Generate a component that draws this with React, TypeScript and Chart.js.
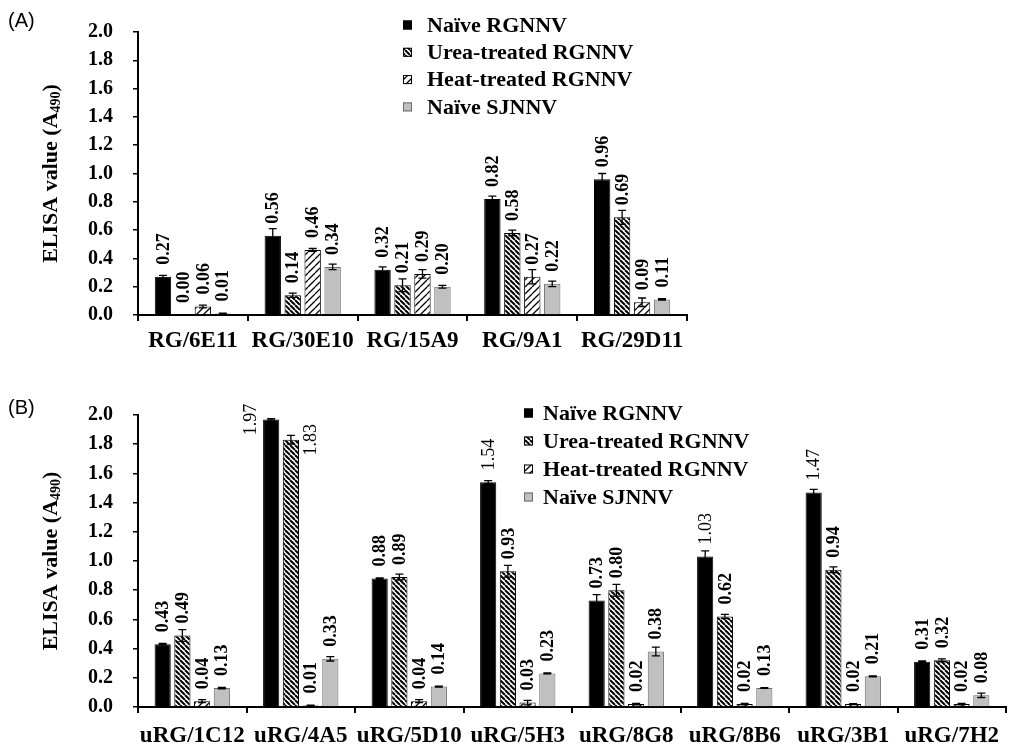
import React, { useEffect, useRef } from 'react';
import { Chart, registerables } from 'chart.js';

Chart.register(...registerables);

// ---------- data ----------
const SERIES_NAMES = ['Naïve RGNNV', 'Urea-treated RGNNV', 'Heat-treated RGNNV', 'Naïve SJNNV'];

const A_CATEGORIES = ['RG/6E11', 'RG/30E10', 'RG/15A9', 'RG/9A1', 'RG/29D11'];
const A_NAIVE_RG = [0.27, 0.56, 0.32, 0.82, 0.96];
const A_UREA_RG = [0.0, 0.14, 0.21, 0.58, 0.69];
const A_HEAT_RG = [0.06, 0.46, 0.29, 0.27, 0.09];
const A_NAIVE_SJ = [0.01, 0.34, 0.2, 0.22, 0.11];
const A_NAIVE_RG_ERR = [0.01, 0.05, 0.02, 0.02, 0.04];
const A_UREA_RG_ERR = [0.0, 0.015, 0.045, 0.02, 0.05];
const A_HEAT_RG_ERR = [0.01, 0.01, 0.03, 0.05, 0.03];
const A_NAIVE_SJ_ERR = [0.003, 0.02, 0.01, 0.02, 0.005];

const B_CATEGORIES = ['uRG/1C12', 'uRG/4A5', 'uRG/5D10', 'uRG/5H3', 'uRG/8G8', 'uRG/8B6', 'uRG/3B1', 'uRG/7H2'];
const B_NAIVE_RG = [0.43, 1.97, 0.88, 1.54, 0.73, 1.03, 1.47, 0.31];
const B_UREA_RG = [0.49, 1.83, 0.89, 0.93, 0.8, 0.62, 0.94, 0.32];
const B_HEAT_RG = [0.04, 0.01, 0.04, 0.03, 0.02, 0.02, 0.02, 0.02];
const B_NAIVE_SJ = [0.13, 0.33, 0.14, 0.23, 0.38, 0.13, 0.21, 0.08];
const B_NAIVE_RG_ERR = [0.005, 0.005, 0.005, 0.01, 0.04, 0.04, 0.02, 0.005];
const B_UREA_RG_ERR = [0.04, 0.03, 0.02, 0.04, 0.04, 0.015, 0.02, 0.01];
const B_HEAT_RG_ERR = [0.01, 0.003, 0.01, 0.015, 0.005, 0.005, 0.003, 0.005];
const B_NAIVE_SJ_ERR = [0.005, 0.015, 0.003, 0.003, 0.03, 0.003, 0.003, 0.015];

const Y_MIN = 0;
const Y_MAX = 2.0;
const Y_STEP = 0.2;
const Y_TITLE_MAIN = 'ELISA value (A';
const Y_TITLE_SUB = '490';
const Y_TITLE_END = ')';

// ---------- styling ----------
const SERIF = '"Liberation Serif", "Times New Roman", serif';
const SANS = '"Liberation Sans", Arial, sans-serif';

function makePattern(kind: 'urea' | 'heat') {
  const s = kind === 'urea' ? 5 : 7;
  const c = document.createElement('canvas');
  c.width = s;
  c.height = s;
  const g = c.getContext('2d')!;
  g.fillStyle = '#ffffff';
  g.fillRect(0, 0, s, s);
  g.strokeStyle = '#000000';
  g.lineWidth = kind === 'urea' ? 2 : 1.3;
  g.beginPath();
  for (const o of [-s, 0, s]) {
    if (kind === 'urea') {
      g.moveTo(o, 0);
      g.lineTo(o + s, s);
    } else {
      g.moveTo(o, s);
      g.lineTo(o + s, 0);
    }
  }
  g.stroke();
  return g.createPattern(c, 'repeat')!;
}

const decorPlugin = {
  id: 'decor',
  afterDatasetsDraw(chart: any) {
    const o = chart.options.plugins.decor;
    const ctx = chart.ctx as CanvasRenderingContext2D;
    const y = chart.scales.y;
    const area = chart.chartArea;
    // error bars
    ctx.save();
    ctx.strokeStyle = '#000';
    ctx.lineWidth = 1.3;
    chart.data.datasets.forEach((ds: any, di: number) => {
      const meta = chart.getDatasetMeta(di);
      meta.data.forEach((bar: any, i: number) => {
        const v = ds.data[i];
        const e = o.errors[di][i];
        if (!e) return;
        const yt = y.getPixelForValue(v + e);
        const yb = y.getPixelForValue(Math.max(0, v - e));
        const cap = 4;
        ctx.beginPath();
        ctx.moveTo(bar.x, yt);
        ctx.lineTo(bar.x, yb);
        ctx.moveTo(bar.x - cap, yt);
        ctx.lineTo(bar.x + cap, yt);
        ctx.moveTo(bar.x - cap, yb);
        ctx.lineTo(bar.x + cap, yb);
        ctx.stroke();
      });
    });
    ctx.restore();

    // value labels (rotated)
    ctx.save();
    ctx.fillStyle = '#000';
    chart.data.datasets.forEach((ds: any, di: number) => {
      const meta = chart.getDatasetMeta(di);
      meta.data.forEach((bar: any, i: number) => {
        const v = ds.data[i];
        const text = v.toFixed(2);
        ctx.font = (v >= 1 ? '' : 'bold ') + '18px ' + SERIF;
        const w = ctx.measureText(text).width;
        const top = y.getPixelForValue(v);
        const gap = 12;
        ctx.save();
        if (top - gap - w < area.top - 2) {
          const dx = (bar.width / 2 + 12) * (di === 0 ? -1 : 1);
          ctx.translate(bar.x + dx, top);
          ctx.rotate(-Math.PI / 2);
          ctx.textAlign = 'center';
          ctx.textBaseline = 'middle';
          ctx.fillText(text, 0, 0);
        } else {
          ctx.translate(bar.x + 1, top - gap);
          ctx.rotate(-Math.PI / 2);
          ctx.textAlign = 'left';
          ctx.textBaseline = 'middle';
          ctx.fillText(text, 0, 0);
        }
        ctx.restore();
      });
    });
    ctx.restore();
  },
  afterDraw(chart: any) {
    const o = chart.options.plugins.decor;
    const ctx = chart.ctx as CanvasRenderingContext2D;
    const area = chart.chartArea;
    // legend
    ctx.save();
    chart.data.datasets.forEach((ds: any, di: number) => {
      const cy = o.legendY + di * o.legendStep;
      const b = 9;
      ctx.fillStyle = ds.backgroundColor;
      ctx.fillRect(o.legendX, cy - b / 2, b, b);
      ctx.strokeStyle = ds.borderColor;
      ctx.lineWidth = 1;
      ctx.strokeRect(o.legendX + 0.5, cy - b / 2 + 0.5, b - 1, b - 1);
      ctx.fillStyle = '#000';
      ctx.font = 'bold 22px ' + SERIF;
      ctx.textAlign = 'left';
      ctx.textBaseline = 'middle';
      ctx.fillText(ds.label, o.legendTextX, cy + 1);
    });
    ctx.restore();

    // y title with subscript
    ctx.save();
    const big = 'bold 22px ' + SERIF;
    const small = 'bold 14px ' + SERIF;
    ctx.font = big;
    const w1 = ctx.measureText(Y_TITLE_MAIN).width;
    const w3 = ctx.measureText(Y_TITLE_END).width;
    ctx.font = small;
    const w2 = ctx.measureText(Y_TITLE_SUB).width;
    const total = w1 + w2 + w3;
    ctx.translate(o.titleX, (area.top + area.bottom) / 2);
    ctx.rotate(-Math.PI / 2);
    ctx.fillStyle = '#000';
    ctx.textAlign = 'left';
    ctx.textBaseline = 'alphabetic';
    const base = 7.3;
    let x = -total / 2;
    ctx.font = big;
    ctx.fillText(Y_TITLE_MAIN, x, base);
    x += w1;
    ctx.font = small;
    ctx.fillText(Y_TITLE_SUB, x, base + 3);
    x += w2;
    ctx.font = big;
    ctx.fillText(Y_TITLE_END, x, base);
    ctx.restore();

    // panel letter
    ctx.save();
    ctx.fillStyle = '#000';
    ctx.font = '20px ' + SANS;
    ctx.textAlign = 'left';
    ctx.textBaseline = 'top';
    ctx.fillText(o.letter, 8, o.letterY);
    ctx.restore();
  },
};

type PanelProps = {
  letter: string;
  letterY: number;
  categories: string[];
  series: number[][];
  errors: number[][];
  top: number;
  height: number;
  padTop: number;
  padRight: number;
  xAxisHeight: number;
  xLabelPad: number;
  legendX: number;
  legendTextX: number;
  legendY: number;
  legendStep: number;
};

function Panel(p: PanelProps) {
  const ref = useRef<HTMLCanvasElement>(null);
  useEffect(() => {
    const canvas = ref.current!;
    const fills: any[] = ['#000000', makePattern('urea'), makePattern('heat'), '#c0c0c0'];
    const borders = ['#000000', '#000000', '#000000', '#6a6a6a'];
    const chart = new Chart(canvas, {
      type: 'bar',
      data: {
        labels: p.categories,
        datasets: p.series.map((d, i) => ({
          label: SERIES_NAMES[i],
          data: d,
          backgroundColor: fills[i],
          borderColor: borders[i],
          borderWidth: 1,
          categoryPercentage: 0.727,
          barPercentage: 0.82,
        })),
      },
      options: {
        responsive: false,
        animation: false,
        devicePixelRatio: 1,
        layout: { padding: { left: 0, top: p.padTop, right: p.padRight, bottom: 0 } },
        plugins: {
          legend: { display: false },
          tooltip: { enabled: false },
          decor: {
            errors: p.errors,
            legendX: p.legendX,
            legendTextX: p.legendTextX,
            legendY: p.legendY,
            legendStep: p.legendStep,
            titleX: 50,
            letter: p.letter,
            letterY: p.letterY,
          },
        } as any,
        scales: {
          x: {
            type: 'category',
            offset: true,
            grid: {
              offset: true,
              drawOnChartArea: false,
              drawTicks: true,
              tickLength: 6,
              color: '#000',
              lineWidth: 2,
            },
            border: { display: true, color: '#000', width: 2 },
            ticks: {
              color: '#000',
              font: { family: SERIF, size: 23, weight: 'bold' },
              padding: p.xLabelPad,
              maxRotation: 0,
              autoSkip: false,
            },
            afterFit: (s: any) => {
              s.height = p.xAxisHeight;
            },
          },
          y: {
            min: Y_MIN,
            max: Y_MAX,
            grid: {
              drawOnChartArea: false,
              drawTicks: true,
              tickLength: 5,
              color: '#000',
              lineWidth: 1.5,
            },
            border: { display: true, color: '#000', width: 2 },
            ticks: {
              stepSize: Y_STEP,
              color: '#000',
              font: { family: SERIF, size: 20, weight: 'bold' },
              padding: 20,
              callback: (v: any) => Number(v).toFixed(1),
            },
            afterFit: (s: any) => {
              s.width = 138;
            },
          },
        },
      },
      plugins: [decorPlugin],
    });
    return () => chart.destroy();
  }, []);
  return (
    <canvas
      ref={ref}
      width={1010}
      height={p.height}
      style={{ position: 'absolute', left: 0, top: p.top, width: 1010, height: p.height }}
    />
  );
}

export default function App() {
  return (
    <div style={{ position: 'absolute', left: 0, top: 0, width: 1010, height: 749, background: '#fff' }}>
      <Panel
        letter="(A)"
        letterY={11}
        categories={A_CATEGORIES}
        series={[A_NAIVE_RG, A_UREA_RG, A_HEAT_RG, A_NAIVE_SJ]}
        errors={[A_NAIVE_RG_ERR, A_UREA_RG_ERR, A_HEAT_RG_ERR, A_NAIVE_SJ_ERR]}
        top={0}
        height={360}
        padTop={15}
        padRight={323}
        xAxisHeight={45}
        xLabelPad={6}
        legendX={403}
        legendTextX={427}
        legendY={25}
        legendStep={27.3}
      />
      <Panel
        letter="(B)"
        letterY={18}
        categories={B_CATEGORIES}
        series={[B_NAIVE_RG, B_UREA_RG, B_HEAT_RG, B_NAIVE_SJ]}
        errors={[B_NAIVE_RG_ERR, B_UREA_RG_ERR, B_HEAT_RG_ERR, B_NAIVE_SJ_ERR]}
        top={380}
        height={369}
        padTop={35}
        padRight={4}
        xAxisHeight={42}
        xLabelPad={9}
        legendX={524}
        legendTextX={543}
        legendY={33}
        legendStep={28}
      />
    </div>
  );
}
